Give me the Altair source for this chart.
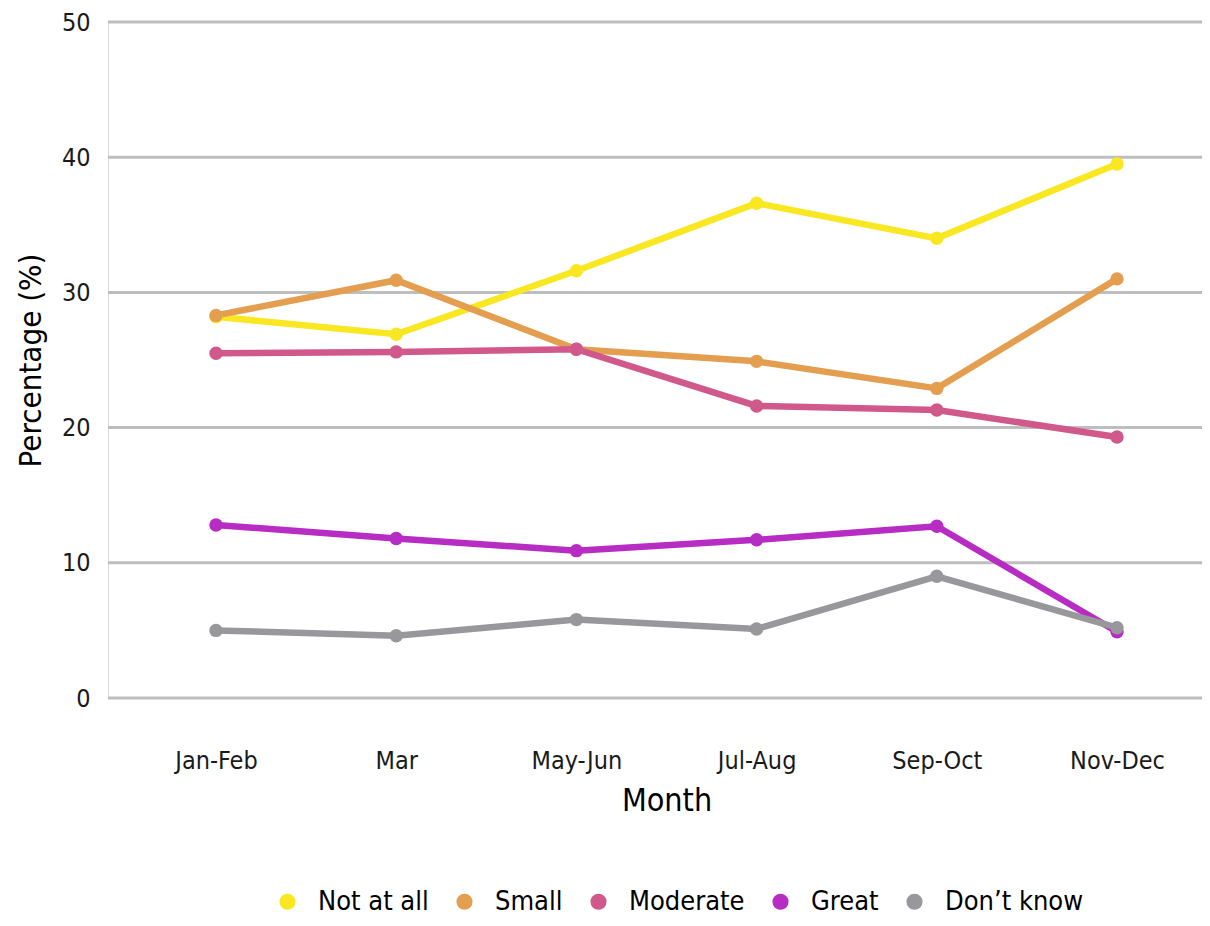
import altair as alt
import pandas as pd

months = ["Jan-Feb", "Mar", "May-Jun", "Jul-Aug", "Sep-Oct", "Nov-Dec"]
series = ["Not at all", "Small", "Moderate", "Great", "Don\u2019t know"]
colors = ["#F9E721", "#E49E50", "#D0588A", "#B72CC2", "#98989C"]
y_ticks = [0, 10, 20, 30, 40, 50]

not_at_all = [28.2, 26.9, 31.6, 36.6, 34.0, 39.5]
small = [28.3, 30.9, 25.8, 24.9, 22.9, 31.0]
moderate = [25.5, 25.6, 25.8, 21.6, 21.3, 19.3]
great = [12.8, 11.8, 10.9, 11.7, 12.7, 4.9]
dont_know = [5.0, 4.6, 5.8, 5.1, 9.0, 5.2]

values = [not_at_all, small, moderate, great, dont_know]
rows = []
for si, (s, vals) in enumerate(zip(series, values)):
    for m, v in zip(months, vals):
        rows.append({"Month": m, "Response": s, "Percentage": v, "order": si})
df = pd.DataFrame(rows)
grid_df = pd.DataFrame({"Percentage": y_ticks})

FONT = "Liberation Sans Narrow, DejaVu Sans Condensed, Roboto, sans-serif"

yscale = alt.Scale(domain=[0, 50], nice=False, zero=True)
yaxis = alt.Axis(values=y_ticks, ticks=False, domain=False, grid=False,
                 labelFontSize=25, titleFontSize=31, labelPadding=18,
                 titlePadding=14, labelColor="#1a1a1a", titleColor="#000",
                 labelFont=FONT, titleFont=FONT, titleFontWeight="normal")

x = alt.X("Month:N", sort=months, title="Month",
          scale=alt.Scale(type="point", padding=0, range=[108, 1009]),
          axis=alt.Axis(labelAngle=0, ticks=False, domain=False, grid=False,
                        labelFontSize=25, titleFontSize=32, labelPadding=50,
                        titlePadding=12, labelColor="#1a1a1a", titleColor="#000",
                        labelFont=FONT, titleFont=FONT, titleFontWeight="normal"))
y = alt.Y("Percentage:Q", title="Percentage (%)", scale=yscale, axis=yaxis)
color = alt.Color("Response:N", sort=series,
                  scale=alt.Scale(domain=series, range=colors),
                  legend=alt.Legend(title=None, orient="none", direction="horizontal",
                                    legendX=166, legendY=866, symbolType="circle",
                                    symbolSize=260, labelFontSize=27, labelFont=FONT,
                                    labelColor="#000", labelOffset=17,
                                    columnPadding=22, symbolStrokeWidth=0))

grid = alt.Chart(grid_df).mark_rule(color="#BEBEBE", strokeWidth=3).encode(
    y=alt.Y("Percentage:Q", title="Percentage (%)", scale=yscale, axis=yaxis),
    x=alt.value(0), x2=alt.value(1094))

base = alt.Chart(df).encode(x=x, y=y, color=color, order=alt.Order("order:Q"))
lines = base.mark_line(strokeWidth=6.5)
points = base.mark_circle(size=180, opacity=1)

chart = (
    alt.layer(grid, lines, points)
    .properties(
        width=1094, height=676,
        autosize=alt.AutoSizeParams(type="none"),
        padding={"left": 100, "top": 14, "right": 0, "bottom": 220},
    )
    .configure_view(stroke="transparent", strokeWidth=0)
    .configure_axis(domain=False, grid=False, ticks=False)
    .configure(background="white")
)

chart.save("out.html", embed_options={"renderer": "svg", "actions": False})
